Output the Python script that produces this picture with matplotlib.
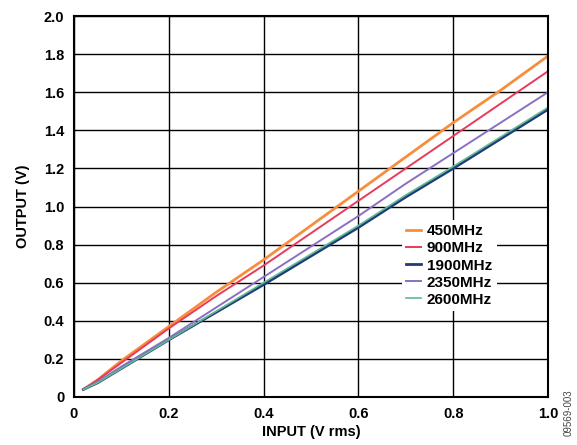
import numpy as np
import matplotlib.pyplot as plt

plt.rcParams['font.family'] = ['Liberation Sans', 'DejaVu Sans']
plt.rcParams['font.weight'] = 'bold'

input_v = [0.02, 0.05, 0.1, 0.2, 0.3, 0.4, 0.5, 0.6, 0.7, 0.8, 0.9, 1.0]
out_450 = [0.04, 0.09, 0.19, 0.37, 0.55, 0.72, 0.90, 1.08, 1.26, 1.44, 1.61, 1.79]
out_900 = [0.04, 0.09, 0.18, 0.36, 0.53, 0.69, 0.86, 1.03, 1.20, 1.37, 1.54, 1.71]
out_1900 = [0.04, 0.075, 0.15, 0.30, 0.445, 0.59, 0.74, 0.89, 1.05, 1.20, 1.355, 1.51]
out_2350 = [0.04, 0.08, 0.16, 0.31, 0.47, 0.63, 0.79, 0.95, 1.12, 1.28, 1.44, 1.60]
out_2600 = [0.04, 0.075, 0.15, 0.30, 0.45, 0.60, 0.75, 0.90, 1.06, 1.21, 1.365, 1.52]

series = [
    ("450MHz", out_450, "#F78E3D", 2.0),
    ("900MHz", out_900, "#E83A5C", 1.4),
    ("1900MHz", out_1900, "#1D3C78", 2.0),
    ("2350MHz", out_2350, "#8A70C2", 1.4),
    ("2600MHz", out_2600, "#62B894", 1.2),
]

fig = plt.figure(figsize=(5.77, 4.45), dpi=100)
ax = fig.add_axes([74 / 577, 48 / 445, 474 / 577, 381 / 445])

for label, ys, color, lw in series:
    ax.plot(input_v, ys, color=color, lw=lw, label=label)

ax.set_xlim(0, 1.0)
ax.set_ylim(0, 2.0)
ax.set_xticks([0, 0.2, 0.4, 0.6, 0.8, 1.0])
ax.set_xticklabels(["0", "0.2", "0.4", "0.6", "0.8", "1.0"])
ax.set_yticks(np.arange(0, 2.01, 0.2))
ax.set_yticklabels(["0"] + [f"{v:.1f}" for v in np.arange(0.2, 2.01, 0.2)])
ax.grid(True, color="black", lw=1.0)
ax.set_axisbelow(True)
for s in ax.spines.values():
    s.set_linewidth(1.5)
ax.tick_params(length=0, labelsize=10.5, pad=7)
ax.set_xlabel("INPUT (V rms)", fontsize=10.5, fontweight="bold", labelpad=3)
ax.set_ylabel("OUTPUT (V)", fontsize=10.5, fontweight="bold", labelpad=10)

leg = ax.legend(loc="upper left", bbox_to_anchor=(0.675, 0.485), frameon=True,
                fontsize=11, handlelength=1.0, handletextpad=0.35,
                labelspacing=0.2, borderpad=0.3)
leg.get_frame().set_edgecolor("none")
leg.get_frame().set_facecolor("white")
leg.get_frame().set_alpha(1.0)

fig.text(0.985, 0.02, "09569-003", rotation=90, fontsize=7, color="#444444",
         fontweight="normal", ha="center", va="bottom")

fig.savefig("out.png", dpi=100)
